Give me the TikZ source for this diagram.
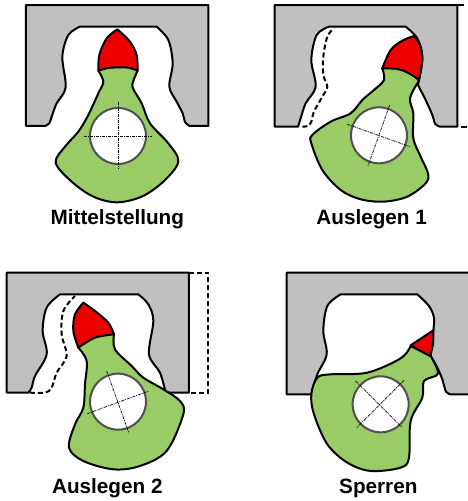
\documentclass[tikz,border=0pt]{standalone}
\usepackage{fontspec}
\setmainfont{Liberation Sans}
\definecolor{wallgray}{HTML}{C0C0C0}
\definecolor{levergreen}{HTML}{99CC66}
\definecolor{tipred}{HTML}{EE0000}
\definecolor{ringgray}{HTML}{505050}
\tikzset{
  wall/.style={draw=black,fill=wallgray,line width=2pt,line join=round},
  lever/.style={draw=black,fill=levergreen,line width=2pt,line join=round},
  tip/.style={draw=black,fill=tipred,line width=2pt,line join=round},
  ring/.style={draw=ringgray,fill=white,line width=2pt,circle,minimum size=56pt,inner sep=0pt},
  axisline/.style={draw=black,line width=0.7pt,dash pattern=on 3pt off 1pt on 1pt off 1pt},
  ghost/.style={draw=black,line width=2pt,dash pattern=on 5pt off 3pt},
  stub/.style={draw=black,line width=2pt},
  caption/.style={font=\fontsize{20.7}{24}\selectfont\bfseries,text=black,inner sep=0pt},
  smoothline/.style={smooth,tension=0.55}
}
\begin{document}
\begin{tikzpicture}[x=1pt,y=-1pt]
\useasboundingbox (0,0) rectangle (467,501);
% ---------- Panel 1
\begin{scope}[x=0.3333pt,y=-0.3333pt]
\path[wall] (78,378) -- (78,15) -- (625,15) -- (625,378) -- (570,378) -- plot[smoothline] coordinates {(570,378) (556,368) (548,340) (530,305) (508,260) (518,190) (505,120) (470,80)} -- (240,80) -- plot[smoothline] coordinates {(240,80) (205,105) (187,170) (197,262) (170,310) (155,350) (148,370) (135,378)} -- cycle;
\path[lever] plot[smoothline] coordinates {(295,212) (310,245) (295,280) (265,345) (235,395) (195,440) (167,488) (215,545) (280,590) (350,607) (425,590) (490,545) (535,485) (505,430) (450,370) (425,310) (398,262) (403,235) (413,212)} -- (350,170) -- cycle;
\path[tip] plot[smoothline] coordinates {(295,212) (298,165) (320,115) (352,88)} -- plot[smoothline] coordinates {(352,88) (390,125) (410,165) (413,212)} -- plot[smoothline] coordinates {(413,212) (385,203) (350,202) (320,205) (295,212)} -- cycle;
\node[ring] (c1) at (354,408) {};
\coordinate (c1w) at (253,408); \coordinate (c1e) at (455,408); \coordinate (c1n) at (354,305); \coordinate (c1s) at (354,505);
\draw[axisline] (c1w) -- (c1e); \draw[axisline] (c1n) -- (c1s);
\node[caption] (t1) at (352,657) {Mittelstellung};
\end{scope}
% ---------- Panel 2
\begin{scope}[xshift=234pt,x=0.3333pt,y=-0.3333pt]
\path[wall] (122,380) -- (122,15) -- (670,15) -- (670,380) -- (618,380) -- plot[smoothline] coordinates {(618,380) (604,372) (595,345) (575,300) (552,255)} -- (555,240) -- plot[smoothline] coordinates {(555,240) (565,170) (550,115) (515,80)} -- (285,80) -- plot[smoothline] coordinates {(285,80) (248,105) (232,180) (245,260) (215,310) (200,355) (192,380)} -- cycle;
\draw[ghost] plot[smoothline] coordinates {(205,380) (222,378) (232,365) (240,335) (265,290) (280,260) (268,225) (268,170) (280,110) (300,85)};
\coordinate (g2a) at (670,15); \coordinate (g2b) at (690,15); \coordinate (g2c) at (682,380); \coordinate (g2d) at (699,380);
\draw[stub] (g2a) -- (g2b); \draw[stub] (g2c) -- (g2d);
\path[lever] plot[smoothline] coordinates {(445,205) (450,240) (420,270) (385,300) (350,340) (290,365) (235,405) (232,430) (265,510) (320,570) (380,598) (450,605) (520,590) (575,550) (582,520) (560,470) (538,415) (538,340) (528,295) (555,242)} -- (500,160) -- cycle;
\path[tip] plot[smoothline] coordinates {(445,205) (470,150) (505,122) (540,108)} -- plot[smoothline] coordinates {(540,108) (558,135) (565,180) (555,240)} -- plot[smoothline] coordinates {(555,240) (525,220) (490,207) (445,205)} -- cycle;
\node[ring] (c2) at (435,406) {};
\coordinate (c2a) at (340,373); \coordinate (c2b) at (528,440); \coordinate (c2c) at (467,315); \coordinate (c2d) at (402,498);
\draw[axisline] (c2a) -- (c2b); \draw[axisline] (c2c) -- (c2d);
\node[caption] (t2) at (413,657) {Auslegen 1};
\end{scope}
% ---------- Panel 3
\begin{scope}[yshift=-251pt,x=0.3333pt,y=-0.3333pt]
\path[wall] (20,425) -- (20,65) -- (567,65) -- (567,425) -- (497,425) -- plot[smoothline] coordinates {(497,425) (480,365) (447,310) (460,210) (445,160) (415,130)} -- (180,130) -- plot[smoothline] coordinates {(180,130) (140,170) (128,240) (140,310) (105,375) (95,410) (85,425)} -- cycle;
\draw[ghost] (567,65) -- (625,65) -- (625,425) -- (567,425);
\draw[ghost] plot[smoothline] coordinates {(90,425) (135,425) (155,410) (170,365) (200,315) (185,250) (190,180) (225,135)};
\path[lever] plot[smoothline] coordinates {(235,290) (260,330) (255,400) (250,470) (225,520) (207,590) (250,630) (340,655) (420,645) (500,600) (550,490) (540,450) (490,415) (430,380) (395,345) (345,295) (342,250)} -- (280,210) -- cycle;
\path[tip] plot[smoothline] coordinates {(235,290) (220,240) (225,190) (250,155)} -- plot[smoothline] coordinates {(250,155) (285,180) (325,215) (342,250)} -- plot[smoothline] coordinates {(342,250) (285,260) (235,290)} -- cycle;
\node[ring] (c3) at (354,452) {};
\coordinate (c3a) at (262,488); \coordinate (c3b) at (447,420); \coordinate (c3c) at (320,360); \coordinate (c3d) at (387,547);
\draw[axisline] (c3a) -- (c3b); \draw[axisline] (c3c) -- (c3d);
\node[caption] (t3) at (322,713) {Auslegen 2};
\end{scope}
% ---------- Panel 4
\begin{scope}[xshift=234pt,yshift=-251pt,x=0.3333pt,y=-0.3333pt]
\path[wall] (705,430) -- (650,430) -- plot[smoothline] coordinates {(650,430) (636,422) (625,385) (610,350) (590,315)} -- plot[smoothline] coordinates {(590,315) (598,240) (600,200) (585,165) (550,130)} -- (320,130) -- plot[smoothline] coordinates {(320,130) (280,165) (268,240) (278,310) (250,370) (232,430)} -- (158,430) -- (158,65) -- (705,65);
\path[lever] plot[smoothline] coordinates {(530,285) (500,322) (400,365) (290,370) (250,380) (232,430) (240,490) (280,580) (340,635) (410,660) (500,650) (525,620) (530,510) (565,440) (570,390) (612,368) (590,315)} -- cycle;
\path[tip] (530,283) -- (598,238) -- plot[smoothline] coordinates {(598,238) (597,280) (588,315)} -- cycle;
\node[ring] (c4) at (440,460) {};
\coordinate (c4a) at (365,390); \coordinate (c4b) at (505,530); \coordinate (c4c) at (510,388); \coordinate (c4d) at (368,530);
\draw[axisline] (c4a) -- (c4b); \draw[axisline] (c4c) -- (c4d);
\node[caption] (t4) at (433,713) {Sperren};
\end{scope}
\end{tikzpicture}
\end{document}
